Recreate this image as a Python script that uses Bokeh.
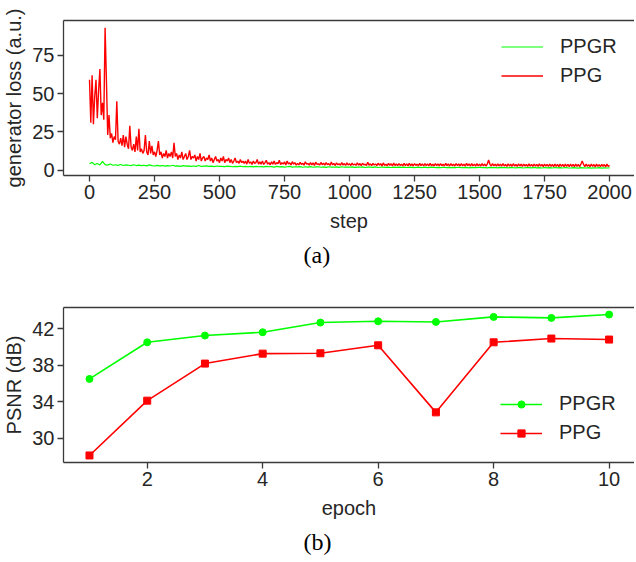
from bokeh.plotting import figure
from bokeh.layouts import column
from bokeh.models import Range1d, FixedTicker, LinearAxis, Title
from bokeh.embed import file_html
from bokeh.resources import INLINE

# ---------------- data: (a) generator loss ----------------
ppg_steps = list(range(0, 2001, 5))
ppg_loss = [
    59, 31, 62, 30, 48, 59, 34, 52, 66, 36, 44, 33, 93, 59, 23, 36, 21, 24, 18, 22,
    20, 45, 19, 17, 21, 16, 23, 15, 22, 17, 14, 29, 15, 13, 17, 12, 22, 13, 27, 12,
    14, 11, 13, 23, 12, 10, 19, 11, 16, 10, 12, 9, 13, 19, 10, 12, 8, 11, 9, 13,
    8, 11, 9, 12, 8, 18, 9, 11, 7, 10, 8, 12, 7, 9, 11, 7, 9, 13, 7, 9,
    8, 10, 6, 9, 7, 11, 6, 8, 9, 6, 8, 7, 10, 6, 8, 5, 7, 9, 6, 7,
    5, 8, 6, 9, 5, 7, 6, 8, 5, 7, 4.5, 6, 8, 5, 6, 4.5, 7, 5, 6, 4.5,
    6, 4, 7, 4.5, 5.5, 3.8, 6, 4.5, 5, 7, 4, 5.5, 4, 6, 3.8, 5, 6.5, 4, 5, 3.6,
    5.5, 4, 6, 3.8, 5, 4.2, 6.5, 3.7, 5, 4, 5.5, 3.5, 6, 4.2, 4.8, 3.5, 5.6, 4, 5, 3.4,
    4.5, 3.5, 5.2, 3.8, 4.6, 3.3, 5.5, 4, 4.4, 3.4, 5, 3.6, 4.8, 3.2, 5.3, 3.9, 4.2, 3.4, 5.1, 3.6,
    4.6, 3.3, 5, 3.7, 4.3, 3.2, 5.4, 3.5, 4.5, 3.1, 4.9, 3.6, 4.2, 3.3, 5, 3.4, 4.4, 3.2, 4.8, 3.5,
    4.3, 3.1, 4.7, 3.4, 4.1, 3.2, 4.9, 3.3, 4.4, 3, 4.6, 3.5, 4, 3.1, 5.2, 3.3, 4.2, 3, 4.5, 3.4,
    4.1, 3.1, 4.6, 3.3, 4.3, 2.9, 4.8, 3.2, 4, 3, 4.5, 3.3, 4.2, 2.9, 4.7, 3.1, 4.1, 3, 4.4, 3.2,
    4, 2.9, 4.6, 3.1, 4.2, 2.9, 4.5, 3, 4.1, 2.8, 4.4, 3.2, 4, 2.9, 4.6, 3, 4.2, 2.8, 4.3, 3.1,
    4.1, 2.9, 4.5, 3, 4, 2.8, 4.4, 3.1, 4.2, 2.9, 4.3, 3, 4, 2.8, 4.5, 3, 4.1, 2.8, 4.3, 3,
    4, 2.8, 4.4, 3, 4.1, 2.8, 4.3, 2.9, 4, 2.7, 4.5, 3, 4.1, 2.8, 4.3, 2.9, 4, 2.7, 4.4, 2.9,
    4, 2.8, 4.3, 2.9, 4.1, 2.7, 4.2, 6.7, 3.9, 2.8, 4.3, 2.9, 4, 2.7, 4.2, 2.9, 4, 2.7, 4.3, 2.8,
    3.9, 2.6, 4.2, 2.8, 4, 2.6, 4.3, 2.7, 3.9, 2.5, 4.2, 2.8, 4, 2.6, 4.1, 2.7, 3.9, 2.5, 4.2, 2.7,
    3.9, 2.5, 4.1, 2.7, 3.9, 2.5, 4.2, 2.7, 3.8, 2.4, 4, 2.7, 3.9, 2.5, 4.1, 2.6, 3.8, 2.4, 4.1, 2.6,
    3.8, 2.4, 4.1, 2.6, 3.9, 2.4, 4, 2.6, 3.8, 2.3, 4.1, 2.6, 3.9, 2.4, 4, 2.6, 3.8, 2.3, 4.1, 6.1,
    3.8, 2.3, 4, 2.6, 3.7, 2.3, 4.1, 2.5, 3.8, 2.2, 4, 2.5, 3.7, 2.3, 3.9, 2.5, 3.8, 2.2, 4, 2.5,
    3.2,
]
ppgr_steps = list(range(0, 2001, 10))
ppgr_loss = [
    4.2, 5.2, 3.6, 4.4, 3.5, 5.8, 3.7, 3.4, 4.1, 3.3, 3.6, 3.2, 3.8, 3.1, 3.5, 3.3, 3.0, 3.6, 3.1, 3.4,
    3.0, 3.3, 2.9, 3.5, 3.0, 2.8, 3.2, 2.9, 3.1, 2.7, 3.0, 2.8, 3.3, 2.7, 2.9, 2.6, 3.0, 2.7, 2.9, 2.6,
    2.8, 2.6, 3.1, 2.5, 2.7, 2.9, 2.5, 2.7, 2.4, 2.8, 2.5, 2.6, 2.4, 2.7, 2.5, 2.3, 2.6, 2.4, 2.7, 2.3,
    2.5, 2.3, 2.6, 2.2, 2.5, 2.3, 2.4, 2.2, 2.6, 2.3, 2.4, 2.1, 2.5, 2.2, 2.4, 2.1, 2.3, 2.5, 2.1, 2.3,
    2.2, 2.4, 2.0, 2.3, 2.1, 2.4, 2.0, 2.2, 2.3, 2.0, 2.2, 1.9, 2.3, 2.1, 2.0, 2.2, 1.9, 2.3, 2.0, 2.1,
    2.0, 2.2, 1.9, 2.1, 2.0, 2.2, 1.8, 2.1, 2.0, 1.9, 2.2, 1.8, 2.0, 2.1, 1.9, 2.0, 1.8, 2.1, 1.9, 2.0,
    1.9, 2.1, 1.8, 2.0, 1.9, 1.7, 2.0, 1.9, 1.8, 2.1, 1.7, 1.9, 2.0, 1.8, 1.9, 1.7, 2.0, 1.8, 1.9, 1.7,
    1.9, 1.8, 2.0, 1.7, 1.8, 1.9, 1.6, 1.9, 1.8, 1.7, 2.0, 1.7, 1.8, 1.6, 1.9, 1.7, 1.8, 1.6, 1.9, 1.7,
    1.8, 1.6, 1.9, 1.7, 1.6, 1.8, 1.7, 1.5, 1.8, 1.7, 1.6, 1.9, 1.6, 1.7, 1.5, 1.8, 1.6, 1.7, 1.5, 1.8,
    1.6, 1.7, 1.5, 1.8, 1.6, 1.5, 1.7, 1.6, 1.4, 1.7, 1.6, 1.5, 1.7, 1.4, 1.6, 1.5, 1.7, 1.4, 1.6, 1.5,
    1.6,
]
loss_ticks_x = [0, 250, 500, 750, 1000, 1250, 1500, 1750, 2000]
loss_ticks_y = [0, 25, 50, 75]

# ---------------- data: (b) PSNR ----------------
epochs = [1, 2, 3, 4, 5, 6, 7, 8, 9, 10]
psnr_ppgr = [36.52, 40.53, 41.27, 41.63, 42.69, 42.83, 42.76, 43.31, 43.20, 43.57]
psnr_ppg = [28.14, 34.14, 38.20, 39.29, 39.33, 40.20, 32.86, 40.53, 40.94, 40.83]
psnr_ticks_x = [2, 4, 6, 8, 10]
psnr_ticks_y = [30, 34, 38, 42]

assert len(ppg_loss) == len(ppg_steps)
assert len(ppgr_loss) == len(ppgr_steps)

FONT = "Liberation Sans"
SERIF = "Liberation Serif"
TXT = "#262626"
SPINE = "#3a3a3a"
GREEN = "#00ff00"
RED = "#ff0000"
FS = "20px"


def style(p, xticks, yticks, xlabel, ylabel):
    p.outline_line_color = None
    p.grid.visible = False
    p.xaxis.ticker = FixedTicker(ticks=xticks)
    p.yaxis.ticker = FixedTicker(ticks=yticks)
    p.xaxis.axis_label = xlabel
    p.yaxis.axis_label = ylabel
    for ax in p.axis:
        ax.axis_line_color = SPINE
        ax.axis_line_width = 1.3
        ax.major_tick_line_color = SPINE
        ax.major_tick_line_width = 1.3
        ax.major_tick_out = 6
        ax.major_tick_in = 0
        ax.minor_tick_line_color = None
        ax.major_label_text_font = FONT
        ax.major_label_text_font_size = FS
        ax.major_label_text_color = TXT
        ax.axis_label_text_font = FONT
        ax.axis_label_text_font_size = FS
        ax.axis_label_text_font_style = "normal"
        ax.axis_label_text_color = TXT
        ax.major_label_standoff = 3
    p.xaxis.axis_label_standoff = 8
    p.yaxis.axis_label_standoff = 4
    top = LinearAxis(ticker=FixedTicker(ticks=[]), axis_line_color=SPINE,
                     axis_line_width=1.3, major_tick_out=0, major_tick_in=0,
                     minor_tick_line_color=None, major_label_standoff=0,
                     major_label_text_font_size="0px")
    p.add_layout(top, "above")


def style_legend(p, loc, gh):
    leg = p.legend[0]
    leg.location = loc
    leg.border_line_color = None
    leg.background_fill_alpha = 0
    leg.padding = 0
    leg.margin = 0
    leg.spacing = 0
    leg.glyph_width = 42
    leg.glyph_height = gh
    leg.label_height = 29
    leg.label_standoff = 17
    leg.label_text_font = FONT
    leg.label_text_font_size = FS
    leg.label_text_color = TXT


def caption(p, text):
    p.add_layout(Title(text=text, align="left", offset=240, text_font=SERIF,
                       text_font_size="24px", text_font_style="normal",
                       text_color="black"), "below")


# ---------------- (a) ----------------
pa = figure(frame_width=571, frame_height=155, output_backend="svg", toolbar_location=None,
            x_range=Range1d(-100, 2096), y_range=Range1d(-3.4, 97.7),
            min_border_left=60, min_border_right=0, min_border_top=20,
            min_border_bottom=114)
pa.line(ppgr_steps, ppgr_loss, color=GREEN, line_width=1.2, legend_label="PPGR")
pa.line(ppg_steps, ppg_loss, color=RED, line_width=1.4, legend_label="PPG")
style(pa, loss_ticks_x, loss_ticks_y, "step", "generator loss (a.u.)")
style_legend(pa, (438, 85), 29)
caption(pa, "(a)")

# ---------------- (b) ----------------
pb = figure(frame_width=571, frame_height=155, output_backend="svg", toolbar_location=None,
            x_range=Range1d(0.55, 10.44), y_range=Range1d(27.37, 44.34),
            min_border_left=61, min_border_right=0, min_border_top=18,
            min_border_bottom=91)
pb.line(epochs, psnr_ppgr, color=GREEN, line_width=1.6, legend_label="PPGR")
pb.scatter(epochs, psnr_ppgr, marker="circle", size=7, color=GREEN, legend_label="PPGR")
pb.line(epochs, psnr_ppg, color=RED, line_width=1.6, legend_label="PPG")
pb.scatter(epochs, psnr_ppg, marker="square", size=7, color=RED, legend_label="PPG")
style(pb, psnr_ticks_x, psnr_ticks_y, "epoch", "PSNR (dB)")
style_legend(pb, (437, 15), 18)
caption(pb, "(b)")

layout = column(pa, pb, spacing=0)
open("out.html", "w").write(file_html(layout, INLINE))
